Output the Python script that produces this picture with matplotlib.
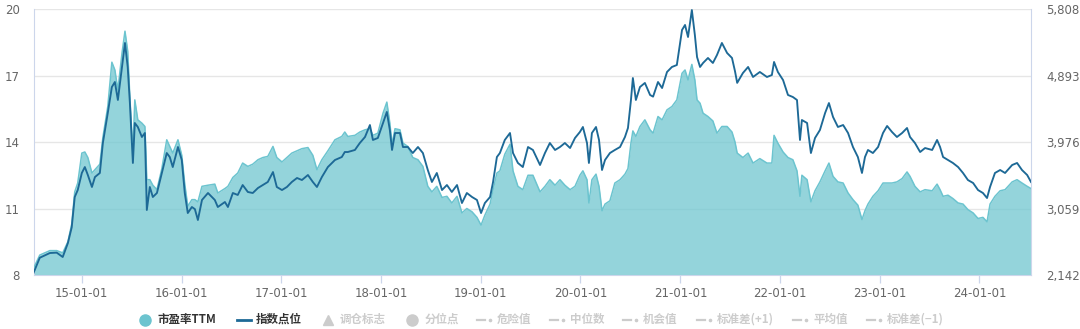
import matplotlib
matplotlib.use("Agg")
import matplotlib.pyplot as plt
import matplotlib.dates as mdates
from matplotlib.lines import Line2D
import numpy as np
import pandas as pd

plt.rcParams['font.family'] = ['DejaVu Sans']
CJK = ['Noto Sans CJK SC', 'DejaVu Sans']

# ---- data: sampled trading dates, index close and PE (TTM) ----
dates = [
    '2014-07-08', '2014-07-31', '2014-09-06', '2014-10-01', '2014-10-23', '2014-11-11', '2014-11-25', '2014-12-06', '2014-12-17',
    '2015-01-01', '2015-01-12', '2015-01-23', '2015-02-07', '2015-02-18', '2015-03-08', '2015-03-19', '2015-04-06', '2015-04-21', '2015-05-02',
    '2015-05-13', '2015-05-28', '2015-06-08', '2015-06-18', '2015-06-26', '2015-07-07', '2015-07-14', '2015-07-25', '2015-08-09', '2015-08-20',
    '2015-08-27', '2015-09-07', '2015-09-18', '2015-10-03', '2015-10-21', '2015-11-08', '2015-11-19', '2015-11-30', '2015-12-19',
    '2016-01-02', '2016-01-13', '2016-01-24', '2016-02-08', '2016-02-19', '2016-03-01', '2016-03-16', '2016-04-07', '2016-05-02', '2016-05-13',
    '2016-06-08', '2016-06-19', '2016-07-07', '2016-07-25', '2016-08-12', '2016-08-31', '2016-09-18', '2016-10-07', '2016-10-25', '2016-11-12',
    '2016-12-01', '2016-12-15',
    '2017-01-03', '2017-01-21', '2017-02-08', '2017-02-27', '2017-03-17', '2017-04-08', '2017-04-26', '2017-05-11', '2017-05-29', '2017-06-20',
    '2017-07-16', '2017-08-10', '2017-08-21', '2017-09-01', '2017-09-27', '2017-10-15', '2017-11-03', '2017-11-21', '2017-12-02', '2017-12-20',
    '2018-01-08', '2018-01-22', '2018-02-02', '2018-02-10', '2018-02-21', '2018-03-11', '2018-03-22', '2018-04-09', '2018-04-27', '2018-05-16',
    '2018-06-03', '2018-06-21', '2018-07-06', '2018-07-24', '2018-08-12', '2018-08-30', '2018-09-17', '2018-10-06', '2018-10-24', '2018-11-11',
    '2018-11-30', '2018-12-18',
    '2019-01-02', '2019-01-16', '2019-02-04', '2019-02-15', '2019-03-01', '2019-03-12', '2019-03-30', '2019-04-18', '2019-04-29', '2019-05-17',
    '2019-06-04', '2019-06-23', '2019-07-11', '2019-08-06', '2019-08-24', '2019-09-11', '2019-09-30', '2019-10-18', '2019-11-05', '2019-11-24',
    '2019-12-12', '2019-12-30',
    '2020-01-10', '2020-01-25', '2020-02-01', '2020-02-12', '2020-02-27', '2020-03-09', '2020-03-20', '2020-03-31', '2020-04-18', '2020-05-06',
    '2020-05-25', '2020-06-12', '2020-06-23', '2020-07-04', '2020-07-11', '2020-07-22', '2020-08-06', '2020-08-24', '2020-09-12', '2020-09-23',
    '2020-10-11', '2020-10-26', '2020-11-13', '2020-12-01', '2020-12-19',
    '2021-01-07', '2021-01-18', '2021-01-29', '2021-02-12', '2021-02-23', '2021-03-03', '2021-03-14', '2021-03-25', '2021-04-12', '2021-04-30',
    '2021-05-15', '2021-06-02', '2021-06-21', '2021-07-09', '2021-07-20', '2021-07-28', '2021-08-18', '2021-09-06', '2021-09-24', '2021-10-19',
    '2021-11-14', '2021-12-02', '2021-12-10', '2021-12-24',
    '2022-01-12', '2022-01-30', '2022-02-17', '2022-03-04', '2022-03-15', '2022-03-22', '2022-04-10', '2022-04-24', '2022-05-09', '2022-05-27',
    '2022-06-15', '2022-06-29', '2022-07-14', '2022-08-01', '2022-08-20', '2022-09-07', '2022-09-25', '2022-10-13', '2022-10-28', '2022-11-08',
    '2022-11-19', '2022-12-07', '2022-12-26',
    '2023-01-13', '2023-01-28', '2023-02-15', '2023-03-05', '2023-03-24', '2023-04-11', '2023-04-22', '2023-05-10', '2023-05-29', '2023-06-16',
    '2023-07-12', '2023-07-30', '2023-08-10', '2023-08-21', '2023-09-08', '2023-09-26', '2023-10-15', '2023-11-02', '2023-11-20', '2023-12-09',
    '2023-12-27',
    '2024-01-14', '2024-01-29', '2024-02-09', '2024-02-27', '2024-03-17', '2024-04-04', '2024-04-30', '2024-05-18', '2024-06-05', '2024-06-24',
    '2024-07-08',
]

index_points = [
    2170, 2380, 2445, 2450, 2390, 2583, 2800, 3217, 3313,
    3548, 3630, 3520, 3355, 3492, 3548, 3961, 4375, 4733, 4802,
    4554, 5009, 5340, 5009, 4512, 3686, 4237, 4182, 4044, 4099,
    3038, 3355, 3217, 3272, 3548, 3823, 3768, 3630, 3906,
    3727, 3272, 2996, 3079, 3050, 2900, 3176, 3272, 3176, 3079,
    3148, 3079, 3272, 3245, 3382, 3286, 3272, 3341, 3382, 3424,
    3561, 3355,
    3313, 3355, 3424, 3479, 3451, 3520, 3424, 3355, 3492, 3630,
    3727, 3768, 3837, 3837, 3865, 3961, 4044, 4209, 4003, 4030,
    4237, 4389, 4140, 3865, 4099, 4099, 3906, 3906, 3823, 3906,
    3823, 3589, 3424, 3548, 3313, 3382, 3286, 3382, 3134, 3272,
    3217, 3176,
    2996, 3134, 3217, 3424, 3768, 3823, 4003, 4099, 3823, 3686,
    3630, 3906, 3865, 3658, 3823, 3961, 3865, 3906, 3961, 3892,
    4030, 4113,
    4182, 3961, 3686, 4099, 4182, 4003, 3589, 3727, 3823, 3865,
    3906, 4044, 4168, 4554, 4857, 4554, 4733, 4789, 4623, 4600,
    4802, 4719, 4940, 5009, 5036,
    5519, 5588, 5422, 5794, 5450, 5146, 5009, 5064, 5133, 5064,
    5174, 5340, 5202, 5133, 4950, 4790, 4926, 5009, 4871, 4940,
    4871, 4898, 5078, 4940,
    4829, 4623, 4595, 4554, 4003, 4278, 4237, 3823, 4030, 4140,
    4375, 4512, 4320, 4182, 4209, 4099, 3906, 3768, 3548, 3768,
    3865, 3823, 3906,
    4099, 4196, 4113, 4044, 4099, 4168, 4044, 3961, 3837, 3892,
    3865, 4003, 3906, 3768, 3727, 3686, 3630, 3548, 3451, 3410,
    3313,
    3272, 3203, 3355, 3548, 3589, 3548, 3658, 3686, 3589, 3520,
    3424,
]

pe_ttm = [
    8.3, 8.9, 9.1, 9.1, 9.0, 9.5, 10.3, 11.75, 12.15,
    13.5, 13.55, 13.3, 12.6, 12.75, 13.0, 14.2, 15.6, 17.6, 17.25,
    16.35, 18.0, 19.0, 18.1, 16.0, 13.5, 15.9, 15.0, 14.85, 14.7,
    12.3, 12.3, 12.05, 11.85, 12.8, 14.1, 13.8, 13.5, 14.1,
    13.4, 12.1, 11.1, 11.4, 11.4, 11.3, 12.0, 12.05, 12.1, 11.7,
    11.9, 12.0, 12.4, 12.6, 13.05, 12.9, 13.0, 13.2, 13.3, 13.35,
    13.8, 13.3,
    13.1, 13.3, 13.5, 13.6, 13.7, 13.75, 13.4, 12.75, 13.2, 13.6,
    14.1, 14.25, 14.45, 14.25, 14.3, 14.45, 14.55, 14.6, 14.3, 14.4,
    15.3, 15.8, 14.85, 13.9, 14.6, 14.55, 13.95, 13.8, 13.3, 13.2,
    12.9, 12.0, 11.75, 12.0, 11.5, 11.55, 11.25, 11.55, 10.8, 11.0,
    10.85, 10.6,
    10.25, 10.7, 11.2, 11.85, 12.6, 12.7, 13.45, 13.9, 12.7, 12.0,
    11.85, 12.5, 12.5, 11.75, 12.0, 12.3, 12.05, 12.3, 12.05, 11.85,
    12.0, 12.5,
    12.7, 12.3, 11.25, 12.3, 12.55, 12.0, 10.9, 11.2, 11.35, 12.15,
    12.3, 12.55, 12.8, 13.95, 14.5, 14.25, 14.7, 15.0, 14.55, 14.4,
    15.15, 15.0, 15.45, 15.6, 15.9,
    17.1, 17.25, 16.8, 17.5, 16.8, 15.9, 15.75, 15.3, 15.15, 14.95,
    14.4, 14.7, 14.7, 14.45, 14.0, 13.5, 13.3, 13.5, 13.05, 13.25,
    13.05, 13.05, 14.3, 13.95,
    13.55, 13.3, 13.2, 12.7, 11.55, 12.5, 12.3, 11.3, 11.8, 12.2,
    12.7, 13.05, 12.45, 12.2, 12.15, 11.7, 11.4, 11.15, 10.5, 10.9,
    11.2, 11.55, 11.8,
    12.15, 12.15, 12.15, 12.2, 12.35, 12.65, 12.45, 12.0, 11.75, 11.85,
    11.8, 12.1, 11.85, 11.55, 11.6, 11.45, 11.25, 11.2, 10.95, 10.8,
    10.55,
    10.6, 10.4, 11.2, 11.55, 11.8, 11.85, 12.2, 12.3, 12.15, 12.0,
    11.9,
]

pe_ticks = [8, 11, 14, 17, 20]
index_tick_labels = ['2,142', '3,059', '3,976', '4,893', '5,808']
year_ticks = ['2015-01-01', '2016-01-01', '2017-01-01', '2018-01-01', '2019-01-01',
              '2020-01-01', '2021-01-01', '2022-01-01', '2023-01-01', '2024-01-01']

legend_active = [('市盈率TTM', 'circle'), ('指数点位', 'line')]
legend_inactive = [('调仓标志', 'triangle'), ('分位点', 'dot'), ('危险值', 'dashdot'),
                   ('中位数', 'dashdot'), ('机会值', 'dashdot'), ('标准差(+1)', 'dashdot'),
                   ('平均值', 'dashdot'), ('标准差(−1)', 'dashdot')]

assert len(dates) == len(index_points) == len(pe_ttm)

# ---- figure ----
W, H = 1080, 329
fig = plt.figure(figsize=(W / 100, H / 100), dpi=100)
L, R, T, B = 33.5, 1031, 9, 275
ax = fig.add_axes([L / W, 1 - B / H, (R - L) / W, (B - T) / H])
ax2 = ax.twinx()

x = pd.to_datetime(dates)
PE_FILL = '#70C6D0'
PE_EDGE = '#6CC4CF'
IDX_LINE = '#1D6996'
AXIS_C = '#ccd6eb'
LABEL_C = '#666666'

ax.fill_between(x, pe_ttm, 8, color=PE_FILL, alpha=0.75, lw=0, zorder=2)
ax.plot(x, pe_ttm, color=PE_EDGE, lw=1.1, zorder=3)
ax2.plot(x, index_points, color=IDX_LINE, lw=1.35, zorder=3)

ax.set_xlim(x[0], x[-1])
ax.set_ylim(8, 20)
ax.set_yticks(pe_ticks)
ax2.set_ylim(2142, 5808)
ax2.set_yticks(np.linspace(2142, 5808, len(index_tick_labels)))
ax2.set_yticklabels(index_tick_labels)

ax.set_xticks(pd.to_datetime(year_ticks))
ax.xaxis.set_major_formatter(mdates.DateFormatter('%y-%m-%d'))

ax.set_axisbelow(True)
ax.grid(axis='y', color='#e6e6e6', lw=1.0)
ax.grid(axis='x', visible=False)

for a in (ax, ax2):
    for s in a.spines.values():
        s.set_visible(False)
ax.spines['left'].set_visible(True)
ax.spines['left'].set_color(AXIS_C)
ax.spines['bottom'].set_visible(True)
ax.spines['bottom'].set_color(AXIS_C)
ax2.spines['right'].set_visible(True)
ax2.spines['right'].set_color(AXIS_C)

ax.tick_params(axis='y', length=0, pad=10, labelsize=8.5, labelcolor=LABEL_C)
ax2.tick_params(axis='y', length=0, pad=11, labelsize=8.5, labelcolor=LABEL_C)
ax.tick_params(axis='x', length=6, width=0.9, color=AXIS_C, pad=2.5,
               labelsize=8.5, labelcolor=LABEL_C)

# ---- legend row ----
def fx(px):
    return px / W

ly = 1 - 319.5 / H
fs = 8.3
active_text = '#333333'
inactive = '#cccccc'

# 市盈率TTM
fig.add_artist(Line2D([fx(145)], [ly], marker='o', ms=8, color=PE_EDGE, lw=0,
                      transform=fig.transFigure))
fig.text(fx(157), ly, legend_active[0][0], fontsize=fs, fontweight='bold', color=active_text,
         va='center', ha='left', family=CJK)
# 指数点位
fig.add_artist(Line2D([fx(237), fx(251)], [ly, ly], color=IDX_LINE, lw=2,
                      transform=fig.transFigure))
fig.text(fx(256), ly, legend_active[1][0], fontsize=fs, fontweight='bold', color=active_text,
         va='center', ha='left', family=CJK)

# greyed-out entries
sym_x = [328, 412, 477, 550, 623, 697, 793, 867]
txt_x = [340, 425, 497, 570, 643, 717, 813, 887]
for (label, kind), sx, tx in zip(legend_inactive, sym_x, txt_x):
    if kind == 'triangle':
        fig.add_artist(Line2D([fx(sx)], [ly], marker='^', ms=7, color=inactive, lw=0,
                              transform=fig.transFigure))
    elif kind == 'dot':
        fig.add_artist(Line2D([fx(sx)], [ly], marker='o', ms=8, color=inactive, lw=0,
                              transform=fig.transFigure))
    else:
        fig.add_artist(Line2D([fx(sx), fx(sx + 8)], [ly, ly], color=inactive, lw=1.6,
                              transform=fig.transFigure))
        fig.add_artist(Line2D([fx(sx + 12.5)], [ly], marker='o', ms=1.6, color=inactive, lw=0,
                              transform=fig.transFigure))
    fig.text(fx(tx), ly, label, fontsize=fs, fontweight='bold', color=inactive,
             va='center', ha='left', family=CJK)

fig.savefig('out.png', dpi=100)
